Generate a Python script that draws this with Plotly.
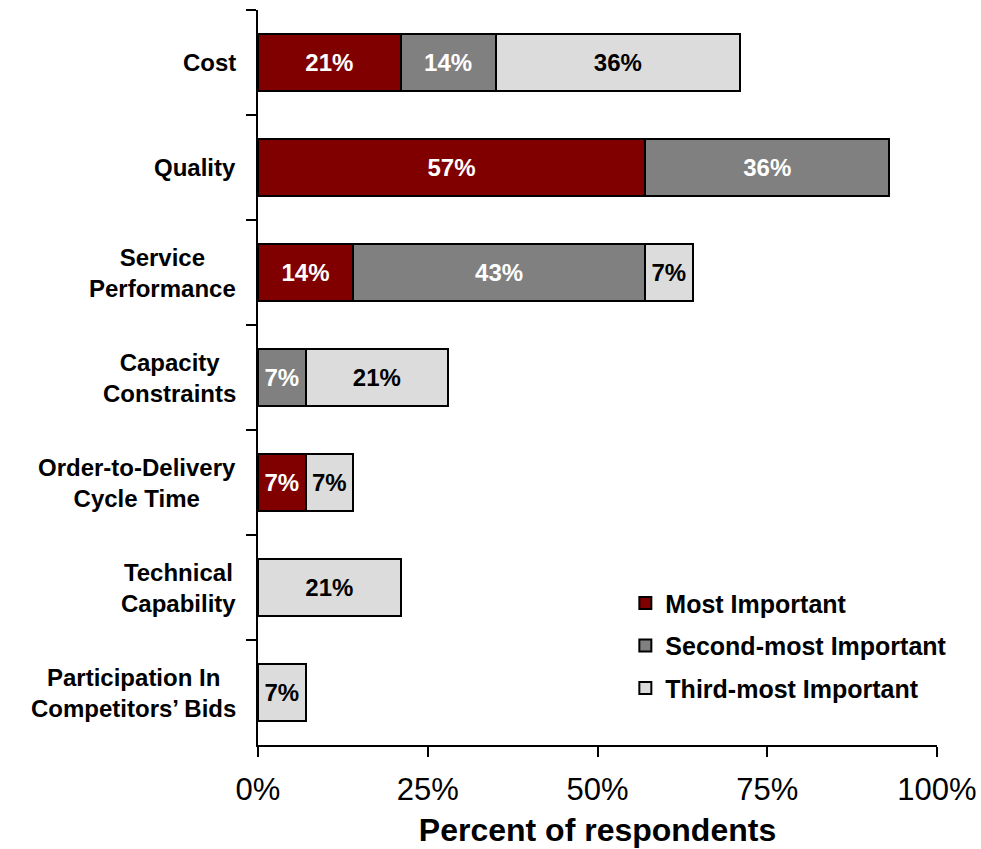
import plotly.graph_objects as go

# Survey: importance ranking of supplier-selection criteria
categories = [
    "Cost",
    "Quality",
    "Service<br>Performance",
    "Capacity<br>Constraints",
    "Order-to-Delivery<br>Cycle Time",
    "Technical<br>Capability",
    "Participation In<br>Competitors’ Bids",
]
most_important = [21, 57, 14, None, 7, None, None]
second_most = [14, 36, 43, 7, None, None, None]
third_most = [36, None, 7, 21, 7, 21, 7]

x_ticks = [0, 25, 50, 75, 100]
x_tick_labels = ["0%", "25%", "50%", "75%", "100%"]

series = [
    ("Most Important", most_important, "#800000", "white"),
    ("Second-most Important", second_most, "#808080", "white"),
    ("Third-most Important", third_most, "#dcdcdc", "black"),
]

BOLD = "Liberation Sans, Arial, sans-serif"

fig = go.Figure()
for i, (name, vals, color, txtcolor) in enumerate(series):
    fig.add_trace(go.Bar(
        y=categories,
        x=vals,
        name=name,
        legendgroup=f"g{i}",
        orientation="h",
        marker=dict(color=color, line=dict(color="black", width=2)),
        text=[f"{v}%" if v else "" for v in vals],
        textposition="inside",
        insidetextanchor="middle",
        textangle=0,
        textfont=dict(family=BOLD, size=24, color=txtcolor, weight="bold"),
        constraintext="none",
        cliponaxis=False,
    ))

# Category labels: centred multi-line text right-aligned against the axis
for cat in categories:
    fig.add_annotation(
        x=0, y=cat, xref="x", yref="y",
        text=f"<b>{cat}</b>",
        showarrow=False,
        xanchor="right", yanchor="middle",
        align="center",
        xshift=-20,
        font=dict(family=BOLD, size=24, color="black"),
    )

fig.update_layout(
    width=981, height=849,
    margin=dict(l=258, r=44, t=10, b=104),
    paper_bgcolor="white",
    plot_bgcolor="white",
    barmode="stack",
    bargap=0.45,
    showlegend=True,
    legend=dict(
        x=0.541, y=0.224, xanchor="left", yanchor="top",
        traceorder="grouped",
        tracegroupgap=7,
        font=dict(family=BOLD, size=25, color="black", weight="bold"),
        bgcolor="rgba(0,0,0,0)",
        itemwidth=30,
    ),
    xaxis=dict(
        range=[0, 100],
        tickvals=x_ticks,
        ticktext=x_tick_labels,
        automargin=False,
        showgrid=False, zeroline=False,
        showline=True, linecolor="black", linewidth=2,
        ticks="outside", ticklen=10, tickwidth=2, tickcolor="black",
        ticklabelstandoff=6,
        tickfont=dict(family="Liberation Sans, Arial, sans-serif", size=31, color="black"),
        title=dict(text="<b>Percent of respondents</b>",
                   font=dict(family=BOLD, size=32, color="black"), standoff=12),
    ),
    yaxis=dict(
        autorange="reversed",
        showticklabels=False,
        automargin=False,
        showgrid=False, zeroline=False,
        showline=True, linecolor="black", linewidth=2,
        ticks="outside", ticklen=10, tickwidth=2, tickcolor="black",
        tickson="boundaries",
    ),
)

fig.write_html("out.html")
